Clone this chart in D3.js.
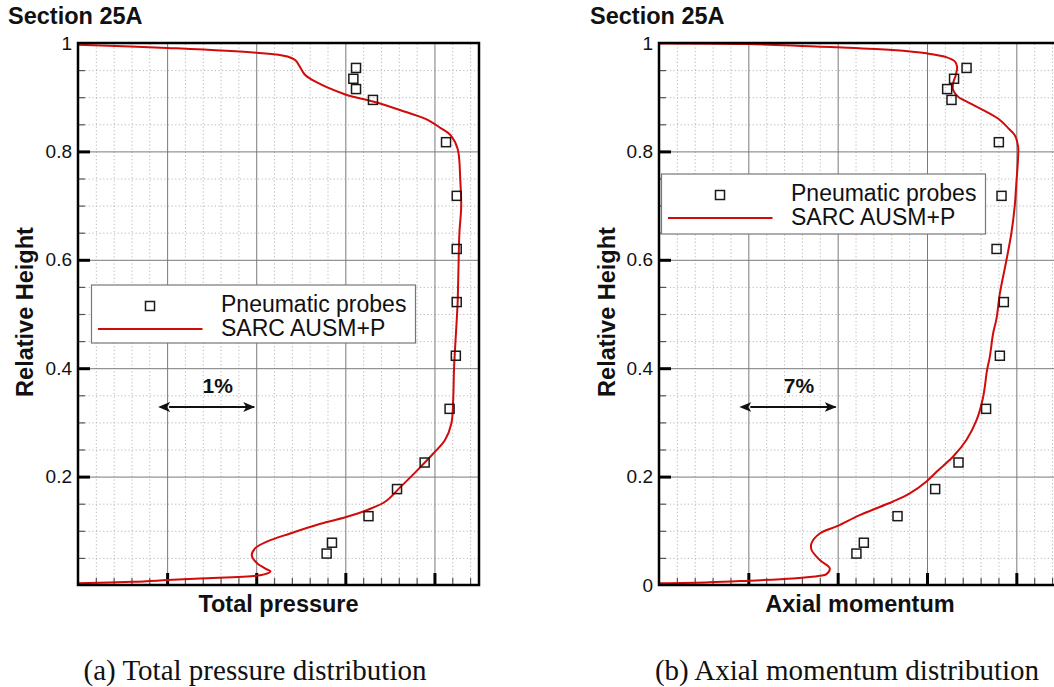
<!DOCTYPE html>
<html>
<head>
<meta charset="utf-8">
<script src="https://cdn.jsdelivr.net/npm/d3@7"></script>
<style>
  html, body { margin: 0; padding: 0; background: #fff; }
  svg { display: block; }
</style>
</head>
<body>
<svg id="fig" width="1054" height="687"></svg>
<script>
// ---- data -------------------------------------------------------------
// Relative heights of the pneumatic probe measurements (shared by both panels)
const probeHeights = [0.954, 0.934, 0.915, 0.895, 0.817, 0.718, 0.620, 0.522,
                      0.423, 0.325, 0.226, 0.177, 0.127, 0.078, 0.058];
// Total pressure at the probes, in percent offset along the x axis
const pressureProbes = [3.12, 3.09, 3.12, 3.31, 4.13, 4.25, 4.25, 4.25,
                        4.24, 4.17, 3.89, 3.58, 3.26, 2.85, 2.79];
// Axial momentum at the probes, in percent offset along the x axis
const momentumProbes = [24.10, 23.12, 22.58, 22.92, 26.63, 26.84, 26.45, 27.02,
                        26.71, 25.63, 23.47, 21.64, 18.69, 16.05, 15.47];

// SARC AUSM+P total pressure profile (traced from casing to hub)
const pressureCurveX = [0.0, 1.0, 2.0, 2.35, 2.44, 2.49, 2.55, 2.66, 3.0, 3.31, 3.62, 3.90,
  4.07, 4.18, 4.26, 4.29, 4.30, 4.28, 4.27, 4.26, 4.25, 4.22, 4.21, 4.19, 4.12, 3.99,
  3.81, 3.62, 3.45, 3.24, 3.0, 2.72, 2.38, 2.12, 1.99, 1.95, 2.01, 2.12, 2.16, 2.10,
  2.0, 1.37, 1.0, 0.62, 0.0];
const pressureCurveY = [0.997, 0.991, 0.982, 0.975, 0.968, 0.956, 0.941, 0.929, 0.905, 0.892,
  0.876, 0.860, 0.843, 0.830, 0.805, 0.747, 0.698, 0.649, 0.587, 0.520, 0.489, 0.400,
  0.341, 0.298, 0.268, 0.243, 0.212, 0.181, 0.154, 0.138, 0.125, 0.113, 0.095, 0.080,
  0.068, 0.055, 0.040, 0.029, 0.025, 0.020, 0.017, 0.012, 0.009, 0.006, 0.003];

// SARC AUSM+P axial momentum profile (traced from casing to hub)
const momentumCurveX = [0.05, 7.0, 14.0, 18.3, 20.96, 22.5, 23.18, 23.36, 23.26, 23.05, 23.05,
  23.44, 24.35, 25.66, 26.71, 27.36, 27.88, 28.14, 28.14, 28.0, 27.87, 27.61, 27.23,
  26.71, 26.45, 26.18, 25.92, 25.71, 25.4, 24.88, 24.10, 23.05, 21.75, 20.96, 19.65,
  18.34, 15.73, 14.0, 12.6, 11.95, 11.95, 12.6, 13.38, 13.12, 12.6, 10.5, 7.0, 3.97, 0.05];
const momentumCurveY = [0.999, 0.998, 0.992, 0.987, 0.981, 0.974, 0.966, 0.956, 0.941, 0.926,
  0.913, 0.901, 0.889, 0.873, 0.858, 0.843, 0.830, 0.809, 0.790, 0.741, 0.698, 0.649,
  0.600, 0.538, 0.492, 0.464, 0.421, 0.397, 0.347, 0.304, 0.268, 0.237, 0.209, 0.191,
  0.169, 0.154, 0.129, 0.109, 0.095, 0.077, 0.065, 0.046, 0.031, 0.020, 0.017, 0.012,
  0.008, 0.005, 0.003];

// Axis tick values and labels
const yMajorTicks = [0, 0.2, 0.4, 0.6, 0.8, 1];
const yLabelsA = ["", "0.2", "0.4", "0.6", "0.8", "1"];
const yLabelsB = ["0", "0.2", "0.4", "0.6", "0.8", "1"];
const seriesNames = ["Pneumatic probes", "SARC AUSM+P"];

// ---- drawing ----------------------------------------------------------
const svg = d3.select("#fig");
const SANS = "'Liberation Sans', Arial, Helvetica, sans-serif";
const RED = "#d10a0a";

const panels = [
  { left: 78, top: 43, width: 401, height: 542, xMax: 4.5, xStep: 1,
    probes: pressureProbes, cx: pressureCurveX, cy: pressureCurveY,
    yLabels: yLabelsA, xTitle: "Total pressure", scaleText: "1%",
    legend: { x: 91.5, y: 285, w: 324, h: 58 },
    titleX: 8, yTitleX: 33, caption: "(a) Total pressure distribution", capX: 255 },
  { left: 659, top: 43, width: 402, height: 542, xMax: 31.5, xStep: 7,
    probes: momentumProbes, cx: momentumCurveX, cy: momentumCurveY,
    yLabels: yLabelsB, xTitle: "Axial momentum", scaleText: "7%",
    legend: { x: 661.5, y: 174, w: 324, h: 60 },
    titleX: 590, yTitleX: 615, caption: "(b) Axial momentum distribution", capX: 847 }
];

// arrow head marker for the scale bar
const defs = svg.append("defs");
["start", "end"].forEach(k => {
  defs.append("marker")
    .attr("id", "arrow-" + k)
    .attr("viewBox", "0 0 12 10")
    .attr("refX", k === "end" ? 11 : 1).attr("refY", 5)
    .attr("markerWidth", 12).attr("markerHeight", 10)
    .attr("markerUnits", "userSpaceOnUse")
    .attr("orient", "auto-start-reverse")
    .append("path").attr("d", "M0,0 L12,5 L0,10 L3,5 Z").attr("fill", "#111");
});

panels.forEach((p, pi) => {
  const x = d3.scaleLinear().domain([0, p.xMax]).range([p.left, p.left + p.width]);
  const y = d3.scaleLinear().domain([0, 1]).range([p.top + p.height, p.top]);
  const g = svg.append("g");

  const clipId = "clip" + pi;
  defs.append("clipPath").attr("id", clipId)
    .append("rect").attr("x", p.left).attr("y", p.top)
    .attr("width", p.width).attr("height", p.height);

  const xMajor = d3.range(0, p.xMax + 1e-9, p.xStep);
  const xMinor = d3.range(0, p.xMax + 1e-9, p.xStep / 5).filter(v => Math.abs(v / p.xStep - Math.round(v / p.xStep)) > 1e-6);
  const yMinor = d3.range(0, 1.0001, 0.05).filter(v => Math.abs(v * 5 - Math.round(v * 5)) > 1e-6);

  // minor dotted grid
  g.append("g").attr("transform", `translate(0,${p.top + p.height})`)
    .call(d3.axisBottom(x).tickValues(xMinor).tickSize(-p.height).tickFormat(""))
    .call(a => a.select(".domain").remove())
    .call(a => a.selectAll("line").attr("stroke", "#b8b8b8").attr("stroke-dasharray", "1.2,2.4"));
  g.append("g").attr("transform", `translate(${p.left},0)`)
    .call(d3.axisLeft(y).tickValues(yMinor).tickSize(-p.width).tickFormat(""))
    .call(a => a.select(".domain").remove())
    .call(a => a.selectAll("line").attr("stroke", "#b8b8b8").attr("stroke-dasharray", "1.2,2.4"));

  // major solid grid
  g.append("g").attr("transform", `translate(0,${p.top + p.height})`)
    .call(d3.axisBottom(x).tickValues(xMajor.slice(1)).tickSize(-p.height).tickFormat(""))
    .call(a => a.select(".domain").remove())
    .call(a => a.selectAll("line").attr("stroke", "#7a7a7a").attr("stroke-width", 1));
  g.append("g").attr("transform", `translate(${p.left},0)`)
    .call(d3.axisLeft(y).tickValues(yMajorTicks.slice(1, -1)).tickSize(-p.width).tickFormat(""))
    .call(a => a.select(".domain").remove())
    .call(a => a.selectAll("line").attr("stroke", "#7a7a7a").attr("stroke-width", 1));

  // minor ticks (inward)
  g.append("g").attr("transform", `translate(0,${p.top + p.height})`)
    .call(d3.axisBottom(x).tickValues(xMinor).tickSize(-7).tickFormat(""))
    .call(a => a.select(".domain").remove())
    .call(a => a.selectAll("line").attr("stroke", "#555").attr("stroke-width", 1.2));
  g.append("g").attr("transform", `translate(${p.left},0)`)
    .call(d3.axisLeft(y).tickValues(yMinor).tickSize(-7).tickFormat(""))
    .call(a => a.select(".domain").remove())
    .call(a => a.selectAll("line").attr("stroke", "#555").attr("stroke-width", 1.2));

  // major ticks (inward) with y labels
  g.append("g").attr("transform", `translate(0,${p.top + p.height})`)
    .call(d3.axisBottom(x).tickValues(xMajor.slice(1)).tickSize(-12).tickFormat(""))
    .call(a => a.select(".domain").remove())
    .call(a => a.selectAll("line").attr("stroke", "#000").attr("stroke-width", 3));
  g.append("g").attr("transform", `translate(${p.left},0)`)
    .call(d3.axisLeft(y).tickValues(yMajorTicks).tickSize(-12).tickPadding(6)
      .tickFormat((d, i) => p.yLabels[i]))
    .call(a => a.select(".domain").remove())
    .call(a => a.selectAll("line").attr("stroke", "#000").attr("stroke-width", 3)
      .attr("display", d => (d === 0 || d === 1) ? "none" : null))
    .call(a => a.selectAll("text").attr("font-family", SANS).attr("font-size", 19)
      .attr("fill", "#111"));

  // scale bar showing the size of one major interval
  const bx0 = x(p.xStep) + 2, bx1 = x(2 * p.xStep) - 2, by = 407;
  g.append("line").attr("x1", bx0).attr("x2", bx1).attr("y1", by).attr("y2", by)
    .attr("stroke", "#111").attr("stroke-width", 2)
    .attr("marker-start", "url(#arrow-start)").attr("marker-end", "url(#arrow-end)");
  g.append("text").attr("x", (x(p.xStep) + x(2 * p.xStep)) / 2 + 6).attr("y", 393)
    .attr("text-anchor", "middle").attr("font-family", SANS).attr("font-weight", "bold")
    .attr("font-size", 21).attr("fill", "#111").text(p.scaleText);

  // CFD profile
  const pts = p.cx.map((v, i) => [v, p.cy[i]]);
  g.append("path").datum(pts)
    .attr("clip-path", `url(#${clipId})`)
    .attr("fill", "none").attr("stroke", RED).attr("stroke-width", 2)
    .attr("stroke-linejoin", "round")
    .attr("d", d3.line().x(d => x(d[0])).y(d => y(d[1])).curve(d3.curveCatmullRom.alpha(0.5)));

  // probe measurements
  const s = 9;
  g.append("g").selectAll("rect").data(p.probes).join("rect")
    .attr("x", d => x(d) - s / 2).attr("y", (d, i) => y(probeHeights[i]) - s / 2)
    .attr("width", s).attr("height", s)
    .attr("fill", "none").attr("stroke", "#1a1a1a").attr("stroke-width", 1.5);

  // legend
  const L = p.legend;
  const lg = g.append("g").attr("transform", `translate(${L.x},${L.y})`);
  lg.append("rect").attr("width", L.w).attr("height", L.h)
    .attr("fill", "#fff").attr("stroke", "#777").attr("stroke-width", 1.2);
  lg.append("rect").attr("x", 58.5 - s / 2).attr("y", 21 - s / 2).attr("width", s).attr("height", s)
    .attr("fill", "none").attr("stroke", "#1a1a1a").attr("stroke-width", 1.5);
  lg.append("line").attr("x1", 6.5).attr("x2", 111).attr("y1", 44).attr("y2", 44)
    .attr("stroke", RED).attr("stroke-width", 2);
  lg.selectAll("text.entry").data(seriesNames).join("text").attr("class", "entry")
    .attr("x", 129.5).attr("y", (d, i) => 27 + i * 23.5)
    .attr("font-family", SANS).attr("font-size", 23).attr("fill", "#111").text(d => d);

  // frame
  g.append("rect").attr("x", p.left).attr("y", p.top).attr("width", p.width).attr("height", p.height)
    .attr("fill", "none").attr("stroke", "#000").attr("stroke-width", 2.5);

  // titles
  g.append("text").attr("x", p.titleX).attr("y", 24)
    .attr("font-family", SANS).attr("font-weight", "bold").attr("font-size", 23.5)
    .attr("fill", "#111").text("Section 25A");
  g.append("text").attr("x", p.left + p.width / 2).attr("y", 612).attr("text-anchor", "middle")
    .attr("font-family", SANS).attr("font-weight", "bold").attr("font-size", 23.5)
    .attr("fill", "#111").text(p.xTitle);
  g.append("text").attr("transform", `translate(${p.yTitleX},312) rotate(-90)`)
    .attr("text-anchor", "middle")
    .attr("font-family", SANS).attr("font-weight", "bold").attr("font-size", 23.5)
    .attr("fill", "#111").text("Relative Height");

  // sub-figure caption
  g.append("text").attr("x", p.capX).attr("y", 680).attr("text-anchor", "middle")
    .attr("font-family", "'Liberation Serif', 'Times New Roman', serif").attr("font-size", 29)
    .attr("fill", "#111").text(p.caption);
});
</script>
</body>
</html>
